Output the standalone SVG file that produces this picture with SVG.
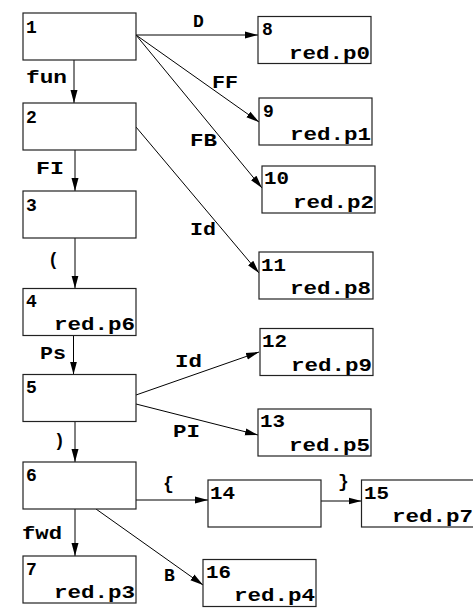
<svg xmlns="http://www.w3.org/2000/svg" width="473" height="612" viewBox="0 0 473 612">
<style>
.box{fill:#fff;stroke:#222;stroke-width:1.2}
.t{font-family:"Liberation Mono","DejaVu Sans Mono",monospace;font-weight:bold;font-size:18px;fill:#000}
.e{stroke:#000;stroke-width:1;fill:none;marker-end:url(#ah)}
</style>
<defs>
<marker id="ah" markerUnits="userSpaceOnUse" markerWidth="14" markerHeight="8" refX="13" refY="4" orient="auto">
<path d="M0,0.5 L13,4 L0,7.5 z" fill="#000"/>
</marker>
</defs>
<rect width="473" height="612" fill="#fff"/>
<g id="connectors">
<line class="e" x1="136" y1="35" x2="258" y2="35"/>
<line class="e" x1="136" y1="35" x2="259" y2="122"/>
<line class="e" x1="136" y1="35" x2="262" y2="188"/>
<line class="e" x1="136" y1="127" x2="259" y2="273"/>
<line class="e" x1="136" y1="395" x2="259" y2="352"/>
<line class="e" x1="136" y1="404" x2="258" y2="435"/>
<line class="e" x1="136" y1="500" x2="208" y2="500"/>
<line class="e" x1="321" y1="501" x2="361.5" y2="501"/>
<line class="e" x1="96" y1="509" x2="203" y2="585"/>
<line class="e" x1="74" y1="60" x2="74" y2="103"/>
<line class="e" x1="75" y1="150" x2="75" y2="191"/>
<line class="e" x1="75" y1="238" x2="75" y2="288.5"/>
<line class="e" x1="73.5" y1="335.5" x2="73.5" y2="374.5"/>
<line class="e" x1="75" y1="421.5" x2="75" y2="462"/>
<line class="e" x1="75" y1="509" x2="75" y2="556"/>
<text class="t" x="193" y="27">D</text>
<text class="t" x="212" y="88" textLength="26" lengthAdjust="spacingAndGlyphs">FF</text>
<text class="t" x="190" y="146" textLength="27" lengthAdjust="spacingAndGlyphs">FB</text>
<text class="t" x="26" y="83" textLength="41" lengthAdjust="spacingAndGlyphs">fun</text>
<text class="t" x="36" y="174" textLength="28" lengthAdjust="spacingAndGlyphs">FI</text>
<text class="t" x="190" y="235" textLength="26" lengthAdjust="spacingAndGlyphs">Id</text>
<text class="t" x="48" y="265">(</text>
<text class="t" x="40" y="359" textLength="26" lengthAdjust="spacingAndGlyphs">Ps</text>
<text class="t" x="175" y="366.5" textLength="27" lengthAdjust="spacingAndGlyphs">Id</text>
<text class="t" x="173" y="437" textLength="27" lengthAdjust="spacingAndGlyphs">PI</text>
<text class="t" x="54" y="446">)</text>
<text class="t" x="163" y="489">{</text>
<text class="t" x="338" y="487">}</text>
<text class="t" x="22" y="539" textLength="40" lengthAdjust="spacingAndGlyphs">fwd</text>
<text class="t" x="164" y="580.5">B</text>
</g>
<g id="n1"><rect class="box" x="23" y="13" width="113" height="47"/><text class="t" x="26" y="32.5">1</text></g>
<g id="n2"><rect class="box" x="23" y="103" width="113" height="47"/><text class="t" x="26" y="122.5">2</text></g>
<g id="n3"><rect class="box" x="23" y="191" width="113" height="47"/><text class="t" x="26" y="210.5">3</text></g>
<g id="n4"><rect class="box" x="23" y="288.5" width="113" height="47"/><text class="t" x="26" y="307">4</text><text class="t" x="54" y="329.5" textLength="81" lengthAdjust="spacingAndGlyphs">red.p6</text></g>
<g id="n5"><rect class="box" x="23" y="374.5" width="113" height="47"/><text class="t" x="26" y="393">5</text></g>
<g id="n6"><rect class="box" x="23" y="462" width="113" height="47"/><text class="t" x="26" y="481">6</text></g>
<g id="n7"><rect class="box" x="23" y="556" width="113" height="47"/><text class="t" x="26" y="575">7</text><text class="t" x="54" y="597.5" textLength="81" lengthAdjust="spacingAndGlyphs">red.p3</text></g>
<g id="n8"><rect class="box" x="258" y="16.5" width="113" height="47"/><text class="t" x="262" y="35">8</text><text class="t" x="289" y="58.5" textLength="81" lengthAdjust="spacingAndGlyphs">red.p0</text></g>
<g id="n9"><rect class="box" x="259" y="98" width="113" height="47"/><text class="t" x="263" y="116.5">9</text><text class="t" x="290" y="140" textLength="81" lengthAdjust="spacingAndGlyphs">red.p1</text></g>
<g id="n10"><rect class="box" x="262" y="166" width="113" height="47"/><text class="t" x="264" y="184" textLength="25" lengthAdjust="spacingAndGlyphs">10</text><text class="t" x="293" y="208" textLength="81" lengthAdjust="spacingAndGlyphs">red.p2</text></g>
<g id="n11"><rect class="box" x="259" y="252" width="114" height="47"/><text class="t" x="261" y="270.5" textLength="25" lengthAdjust="spacingAndGlyphs">11</text><text class="t" x="290" y="294" textLength="81" lengthAdjust="spacingAndGlyphs">red.p8</text></g>
<g id="n12"><rect class="box" x="260" y="328.5" width="113" height="47"/><text class="t" x="262" y="346.5" textLength="25" lengthAdjust="spacingAndGlyphs">12</text><text class="t" x="291" y="370.5" textLength="81" lengthAdjust="spacingAndGlyphs">red.p9</text></g>
<g id="n13"><rect class="box" x="258" y="409" width="113" height="47"/><text class="t" x="260" y="427" textLength="25" lengthAdjust="spacingAndGlyphs">13</text><text class="t" x="289" y="450.5" textLength="81" lengthAdjust="spacingAndGlyphs">red.p5</text></g>
<g id="n14"><rect class="box" x="208" y="480" width="113" height="47"/><text class="t" x="210" y="498.5" textLength="25" lengthAdjust="spacingAndGlyphs">14</text></g>
<g id="n15"><rect class="box" x="361.5" y="480" width="113" height="47"/><text class="t" x="364" y="498.5" textLength="25" lengthAdjust="spacingAndGlyphs">15</text><text class="t" x="392" y="521.5" textLength="81" lengthAdjust="spacingAndGlyphs">red.p7</text></g>
<g id="n16"><rect class="box" x="203" y="559.5" width="113" height="47"/><text class="t" x="206" y="578" textLength="25" lengthAdjust="spacingAndGlyphs">16</text><text class="t" x="234" y="601" textLength="81" lengthAdjust="spacingAndGlyphs">red.p4</text></g>
</svg>
